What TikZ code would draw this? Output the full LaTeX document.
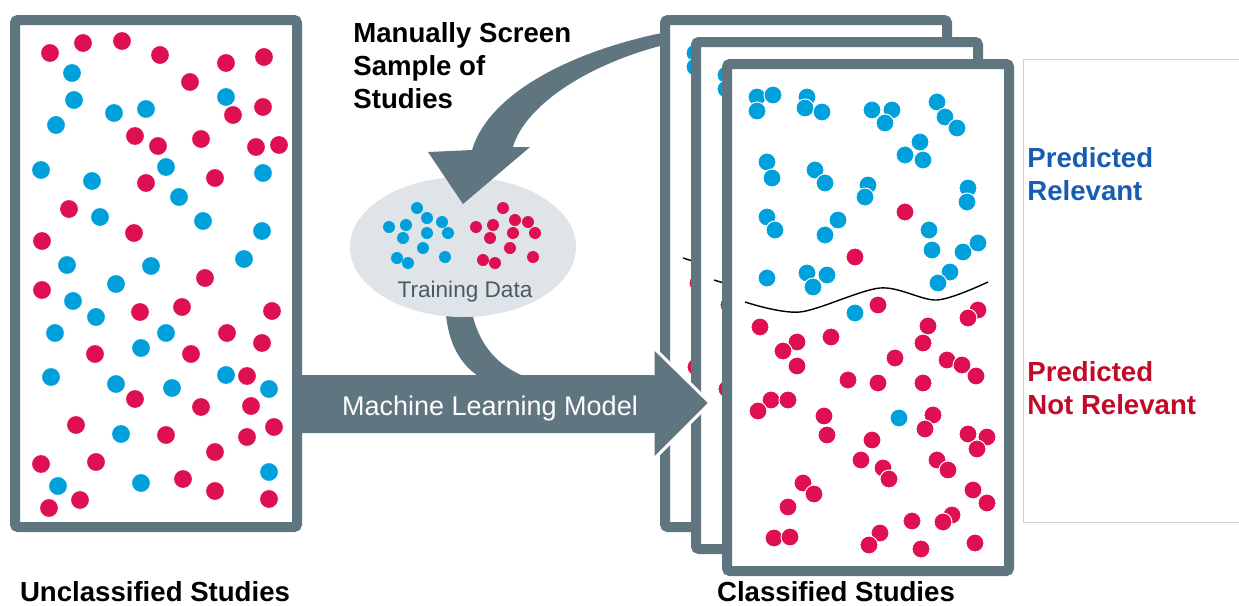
\documentclass[tikz,border=0pt]{standalone}
\usepackage{fontspec}
\setmainfont{Liberation Sans}
\definecolor{slate}{RGB}{95,117,128}
\definecolor{dotred}{RGB}{222,16,82}
\definecolor{dotblue}{RGB}{0,160,220}
\definecolor{haze}{RGB}{222,228,232}
\definecolor{relblue}{RGB}{22,92,178}
\definecolor{notred}{RGB}{192,10,40}
\definecolor{traintext}{RGB}{75,90,100}
\begin{document}
\begin{tikzpicture}[x=0.5pt,y=-0.5pt,
    reddot/.style={fill=dotred,draw=white,line width=0.5pt},
    bluedot/.style={fill=dotblue,draw=white,line width=0.5pt},
    frame/.style={draw=slate,line width=5pt,fill=white,rounded corners=1.5pt},
    label/.style={font=\bfseries\fontsize{13.8}{16.5}\selectfont,inner sep=0pt,align=left}]
    \useasboundingbox (0,0) rectangle (1239,606);
    % contents of one classified sheet (front sheet coordinates)
    \def\classified{
        \foreach \x/\y in {757/97,773/95,757/111,807/97,805/108,822/112,872/110,892/110,885/123,937/102,945/117,957/128,920/142,905/155,923/160,767/162,772/178,815/170,825/183,868/185,865/197,968/188,967/202,767/217,775/230,838/220,825/235,929/230,932/250,963/252,978/243,767/278,807/273,827/275,813/287,950/272,938/283,855/313,899/418}
            \path[bluedot] (\x,\y) circle (9);
        \foreach \x/\y in {905/212,855/257,878/305,978/310,968/318,760/327,797/342,783/351,797/366,831/337,928/326,923/343,895/358,947/360,962/365,976/376,848/380,878/383,923/383,771/400,788/400,758/411,824/416,827/435,933/415,925/429,872/440,861/460,883/468,889/479,968/434,987/437,977/449,937/460,948/470,803/483,814/494,788/507,973/490,987/503,912/521,952/515,943/522,774/538,790/537,880/533,869/545,921/549,975/543}
            \path[reddot] (\x,\y) circle (9);
        \draw[line width=0.7pt] plot[smooth] coordinates {(745,302) (800,312) (880,288) (937,300) (988,282)};
    }
    % loop from training data down into the model arrow
    \fill[slate] (445,300) .. controls (446,345) and (462,368) .. (485,380) -- (535,380) .. controls (500,370) and (475,345) .. (470,300) -- cycle;
    % training data
    \fill[haze] (463,247) ellipse [x radius=113,y radius=70];
    \foreach \x/\y in {417/208,389/227,406/225,427/218,442/222,403/238,427/233,448/233,423/248,397/258,408/263,445/257}
        \fill[dotblue] (\x,\y) circle (6);
    \foreach \x/\y in {503/208,476/227,493/225,515/220,528/222,490/238,513/233,535/233,510/248,483/260,495/263,533/257}
        \fill[dotred] (\x,\y) circle (6);
    \node[font=\fontsize{11.3}{13}\selectfont,text=traintext,anchor=base,inner sep=0pt] (train) at (465,297) {Training Data};
    % manual screening arrow
    \fill[slate] (672,31) .. controls (580,48) and (490,90) .. (472,150) -- (428,152) -- (463,204) -- (530,147) -- (513,147) .. controls (525,105) and (590,62) .. (672,43) -- cycle;
    % stack of classified sheets
    \foreach \k in {2,1,0}{
        \begin{scope}[shift={(-31*\k,-22*\k)}]
            \draw[frame] (727,64) rectangle (1009,571);
            \clip (732,69) rectangle (1004,566);
            \classified
        \end{scope}
    }
    % machine learning model arrow
    \fill[slate] (297,375) -- (653,375) -- (653,347) -- (710,403) -- (653,460) -- (653,433) -- (297,433) -- cycle;
    \draw[white,line width=1.5pt,line join=miter] (653,375) -- (653,347) -- (710,403) -- (653,460) -- (653,433);
    \node[font=\fontsize{13.5}{16}\selectfont,text=white,anchor=base,inner sep=0pt] (model) at (490,415) {Machine Learning Model};
    % unclassified sheet
    \draw[frame] (15,20) rectangle (297,527);
    \foreach \x/\y in {50/53,83/43,122/41,160/55,190/82,226/63,264/57,263/107,233/115,135/136,158/146,201/139,256/147,279/145,146/183,215/178,69/209,134/233,42/241,205/278,42/290,182/307,140/312,272/311,227/333,262/343,95/354,191/354,247/376,135/399,201/407,251/406,76/425,166/435,247/437,274/427,215/452,41/464,96/462,183/479,215/491,80/500,49/508,269/499}
        \path[reddot] (\x,\y) circle (9.5);
    \foreach \x/\y in {72/73,74/100,114/113,146/109,56/125,226/97,41/170,92/181,166/167,263/173,179/197,100/217,203/221,262/231,244/259,67/265,151/266,116/284,73/301,96/317,55/333,166/333,141/348,51/377,116/384,172/388,226/375,269/389,121/434,269/472,58/486,141/483}
        \path[bluedot] (\x,\y) circle (9.5);
    % legend panel
    \draw[black!18,line width=0.5pt] (1239,59) -- (1023,59) -- (1023,522) -- (1239,522);
    \node[label,text=relblue,anchor=north west] (rel) at (1027,147) {Predicted\\Relevant};
    \node[label,text=notred,anchor=north west] (notrel) at (1027,361) {Predicted\\Not Relevant};
    % captions
    \node[label,anchor=north west] (screen) at (353,22) {Manually Screen\\Sample of\\Studies};
    \node[label,anchor=base] (uncl) at (155,601) {Unclassified Studies};
    \node[label,anchor=base] (cl) at (836,601) {Classified Studies};
\end{tikzpicture}
\end{document}
